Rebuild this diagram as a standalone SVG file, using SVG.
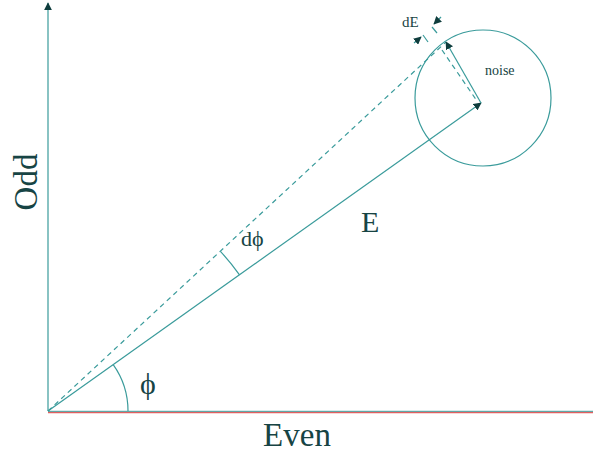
<svg xmlns="http://www.w3.org/2000/svg" width="594" height="455" viewBox="0 0 594 455">
<style>
.ln{stroke:#3a9b9b;stroke-width:1.2;fill:none}
.dash{stroke:#3a9b9b;stroke-width:1.2;fill:none;stroke-dasharray:5,4}
.t{font-family:"Liberation Serif","Times New Roman",serif;fill:#174444}
</style>
<defs>
<marker id="ah" viewBox="0 0 10 10" refX="9" refY="5" markerWidth="8" markerHeight="8" orient="auto" markerUnits="userSpaceOnUse">
<path d="M0,0 L10,5 L0,10 z" fill="#0f3d3d"/>
</marker>
</defs>
<rect width="594" height="455" fill="#ffffff"/>
<g id="connectors">
<line x1="48" y1="411" x2="48" y2="3" class="ln" marker-end="url(#ah)"/>
<line x1="48" y1="412.5" x2="593" y2="412.5" stroke="#e06060" stroke-width="1.5"/>
<line x1="48" y1="411.3" x2="593" y2="411.3" stroke="#3a9b9b" stroke-width="1"/>
<line x1="48" y1="411" x2="481" y2="103" class="ln" marker-end="url(#ah)"/>
<line x1="48" y1="411" x2="446" y2="42" class="dash"/>
<line x1="481" y1="103" x2="446" y2="42" class="ln" marker-end="url(#ah)"/>
<line x1="442" y1="50" x2="477" y2="101" class="dash"/>
<path d="M128,411 A80,80 0 0 0 113.2,364.7" class="ln"/>
<path d="M239.5,274.9 A235,235 0 0 0 220.4,251.3" class="ln"/>
<line x1="414" y1="43" x2="421" y2="37" class="ln" marker-end="url(#ah)"/>
<line x1="441" y1="17" x2="434" y2="24" class="ln" marker-end="url(#ah)"/>
<line x1="423" y1="35" x2="428" y2="42" class="ln"/>
<line x1="432" y1="27" x2="437" y2="33" class="ln"/>
</g>
<g id="noise">
<circle cx="483" cy="98" r="68" class="ln"/>
<text x="485" y="75" class="t" font-size="14">noise</text>
</g>
<g id="labels">
<text x="0" y="0" class="t" font-size="33" text-anchor="middle" transform="translate(37,182) rotate(-90)">Odd</text>
<text x="297" y="446" class="t" font-size="33" text-anchor="middle">Even</text>
<text x="361" y="232" class="t" font-size="30">E</text>
<text x="241" y="246" class="t" font-size="22">dϕ</text>
<text x="140" y="394" class="t" font-size="30">ϕ</text>
<text x="402" y="27" class="t" font-size="15">dE</text>
</g>
</svg>
